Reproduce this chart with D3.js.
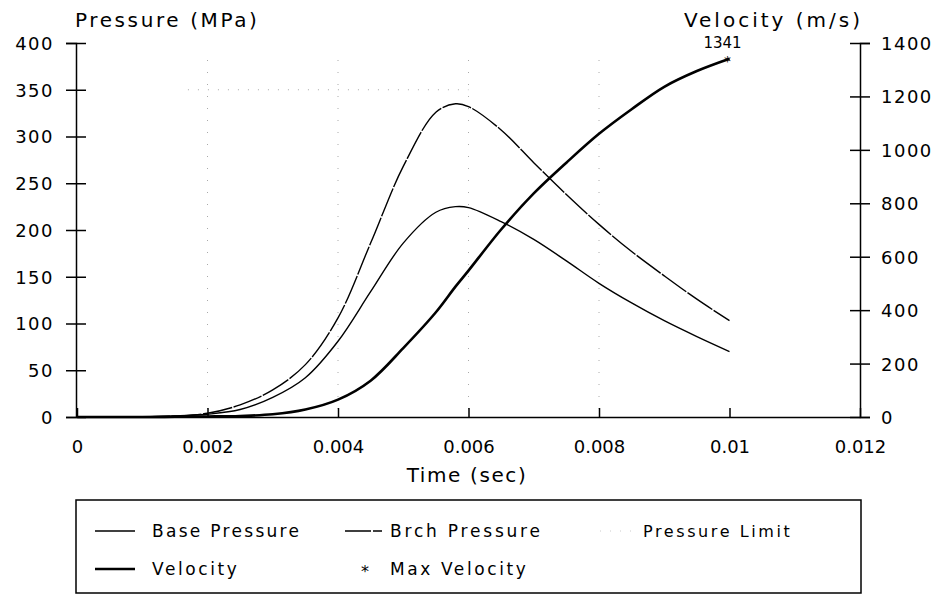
<!DOCTYPE html>
<html>
<head>
<meta charset="utf-8">
<script src="https://cdn.jsdelivr.net/npm/d3@7"></script>
<style>
  html, body { margin: 0; padding: 0; background: #fff; }
  svg { display: block; font-family: "DejaVu Sans", sans-serif; }
</style>
</head>
<body>
<svg id="chart" width="943" height="595"></svg>
<script>
// ---- data ----
const time = [0, 0.001, 0.0015, 0.002, 0.0025, 0.003, 0.0035, 0.004, 0.0045, 0.005, 0.0055, 0.0058, 0.006, 0.0065, 0.007, 0.0075, 0.008, 0.0085, 0.009, 0.0095, 0.01];
const basePressure = [0, 0, 1, 3, 8, 21, 42, 81, 134, 186, 219, 225, 224, 209, 190, 167, 143, 122, 103, 86, 70];
const brchPressure = [0, 0, 1, 4, 13, 29, 56, 106, 186, 268, 326, 335, 332, 307, 272, 238, 206, 177, 151, 126, 103];
const velocity = [0, 0, 1, 2, 4, 10, 28, 65, 136, 258, 392, 488, 548, 702, 837, 952, 1060, 1152, 1236, 1295, 1341];
const maxVelocity = { time: 0.01, value: 1341, label: "1341" };
const pressureLimit = 350;

const xTicks = [0, 0.002, 0.004, 0.006, 0.008, 0.01, 0.012];
const xTickLabels = ["0", "0.002", "0.004", "0.006", "0.008", "0.01", "0.012"];
const pTicks = [0, 50, 100, 150, 200, 250, 300, 350, 400];
const vTicks = [0, 200, 400, 600, 800, 1000, 1200, 1400];
const gridTimes = [0.002, 0.004, 0.006, 0.008];

const legendRow1 = ["Base Pressure", "Brch Pressure", "Pressure Limit"];
const legendRow2 = ["Velocity", "Max Velocity"];

// ---- drawing ----
const svg = d3.select("#chart");
const x = d3.scaleLinear().domain([0, 0.012]).range([77, 860]);
const yP = d3.scaleLinear().domain([0, 400]).range([417, 43]);
const yV = d3.scaleLinear().domain([0, 1400]).range([417, 43]);

// faint dotted grid
svg.append("g").selectAll("line").data(gridTimes).join("line")
  .attr("x1", d => x(d)).attr("x2", d => x(d))
  .attr("y1", 60).attr("y2", 412)
  .attr("stroke", "#aaa").attr("stroke-width", 1)
  .attr("stroke-dasharray", "1,11");

// pressure limit (faint dotted)
svg.append("line")
  .attr("x1", x(0.0017)).attr("x2", x(0.006))
  .attr("y1", yP(pressureLimit)).attr("y2", yP(pressureLimit))
  .attr("stroke", "#aaa").attr("stroke-width", 1)
  .attr("stroke-dasharray", "1,9");

const tickFont = 18;

// left axis
const gL = svg.append("g").attr("transform", "translate(76,0)")
  .call(d3.axisLeft(yP).tickValues(pTicks).tickSizeOuter(0).tickSize(10).tickFormat(d3.format("d")));
gL.select(".domain").attr("stroke", "#000").attr("stroke-width", 1.5);
gL.selectAll(".tick line").attr("x1", 10).attr("x2", -10).attr("stroke", "#000").attr("stroke-width", 1.5);
gL.selectAll(".tick text").attr("x", -22).attr("dy", "0.36em")
  .attr("font-size", tickFont).attr("font-family", "DejaVu Sans").attr("fill", "#000").attr("letter-spacing", 1.5);

// bottom axis
const gB = svg.append("g").attr("transform", "translate(0,417)")
  .call(d3.axisBottom(x).tickValues(xTicks).tickSizeOuter(0).tickFormat((d, i) => xTickLabels[i]));
gB.select(".domain").attr("stroke", "#000").attr("stroke-width", 1.5);
gB.selectAll(".tick line").attr("y1", 0).attr("y2", -9).attr("stroke", "#000").attr("stroke-width", 1.5);
gB.selectAll(".tick text").attr("y", 36).attr("dy", 0)
  .attr("font-size", tickFont).attr("font-family", "DejaVu Sans").attr("fill", "#000");

// right axis
const gR = svg.append("g").attr("transform", "translate(860,0)")
  .call(d3.axisRight(yV).tickValues(vTicks).tickSizeOuter(0).tickSize(10).tickFormat(d3.format("d")));
gR.select(".domain").attr("stroke", "#000").attr("stroke-width", 1.5);
gR.selectAll(".tick line").attr("x1", -10).attr("x2", 10).attr("stroke", "#000").attr("stroke-width", 1.5);
gR.selectAll(".tick text").attr("x", 21).attr("dy", "0.36em")
  .attr("font-size", tickFont).attr("font-family", "DejaVu Sans").attr("fill", "#000").attr("letter-spacing", 1.5);

// axis titles
svg.append("text").attr("x", 75).attr("y", 27).attr("font-size", 20).attr("letter-spacing", 2.6)
  .attr("fill", "#000").text("Pressure (MPa)");
svg.append("text").attr("x", 863).attr("y", 27).attr("text-anchor", "end").attr("font-size", 20).attr("letter-spacing", 3)
  .attr("fill", "#000").text("Velocity (m/s)");
svg.append("text").attr("x", 467).attr("y", 482).attr("text-anchor", "middle").attr("font-size", 20).attr("letter-spacing", 1.6)
  .attr("fill", "#000").text("Time (sec)");

// curves
const idx = d3.range(time.length);
const lineOf = (arr, yScale) => d3.line()
  .x(i => x(time[i])).y(i => yScale(arr[i])).curve(d3.curveCatmullRom.alpha(0.5))(idx);

svg.append("path").attr("d", lineOf(basePressure, yP))
  .attr("fill", "none").attr("stroke", "#000").attr("stroke-width", 1.4);
svg.append("path").attr("d", lineOf(brchPressure, yP))
  .attr("fill", "none").attr("stroke", "#000").attr("stroke-width", 1.4)
  .attr("stroke-dasharray", "30,1.5");
svg.append("path").attr("d", lineOf(velocity, yV))
  .attr("fill", "none").attr("stroke", "#000").attr("stroke-width", 2.6);

// max velocity marker & label
svg.append("text").attr("x", x(maxVelocity.time) - 2).attr("y", yV(maxVelocity.value) + 7)
  .attr("text-anchor", "middle").attr("font-size", 14).attr("fill", "#000").text("*");
svg.append("text").attr("x", x(maxVelocity.time) - 7).attr("y", 48)
  .attr("text-anchor", "middle").attr("font-size", 15).attr("fill", "#000").text(maxVelocity.label);

// legend
const lg = svg.append("g");
lg.append("rect").attr("x", 76).attr("y", 500).attr("width", 785).attr("height", 93)
  .attr("fill", "none").attr("stroke", "#000").attr("stroke-width", 1.5);
const legFont = 17, legLS = 2.3;
const r1 = 531, r2 = 569;
lg.append("line").attr("x1", 95).attr("x2", 135).attr("y1", r1).attr("y2", r1).attr("stroke", "#000").attr("stroke-width", 1.4);
lg.append("text").attr("x", 152).attr("y", r1 + 6).attr("font-size", legFont).attr("letter-spacing", legLS).text(legendRow1[0]);
lg.append("line").attr("x1", 345).attr("x2", 382).attr("y1", r1).attr("y2", r1).attr("stroke", "#000").attr("stroke-width", 1.4).attr("stroke-dasharray", "26,2");
lg.append("text").attr("x", 390).attr("y", r1 + 6).attr("font-size", legFont).attr("letter-spacing", 2.8).text(legendRow1[1]);
lg.append("line").attr("x1", 600).attr("x2", 635).attr("y1", r1).attr("y2", r1).attr("stroke", "#ccc").attr("stroke-width", 1).attr("stroke-dasharray", "1,9");
lg.append("text").attr("x", 643).attr("y", r1 + 6).attr("font-size", 16).attr("letter-spacing", 2.6).text(legendRow1[2]);
lg.append("line").attr("x1", 95).attr("x2", 135).attr("y1", r2).attr("y2", r2).attr("stroke", "#000").attr("stroke-width", 2.6);
lg.append("text").attr("x", 152).attr("y", r2 + 6).attr("font-size", legFont).attr("letter-spacing", 2.6).text(legendRow2[0]);
lg.append("text").attr("x", 365).attr("y", r2 + 8).attr("text-anchor", "middle").attr("font-size", 16).text("*");
lg.append("text").attr("x", 390).attr("y", r2 + 6).attr("font-size", legFont).attr("letter-spacing", 2.6).text(legendRow2[1]);
</script>
</body>
</html>
